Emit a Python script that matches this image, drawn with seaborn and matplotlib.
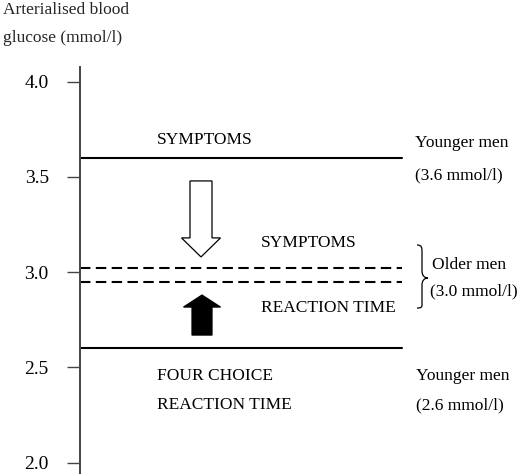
import numpy as np
import pandas as pd
import matplotlib
matplotlib.use("Agg")
import matplotlib.pyplot as plt
import seaborn as sns
from matplotlib.path import Path
from matplotlib.patches import PathPatch

# threshold levels (mmol/l)
line_levels = [3.6, 3.02, 2.95, 2.6]
line_kinds = ["solid", "dashed", "dashed", "solid"]
line_x_end = 322

# arrows: start and end glucose levels
arrow_start = [3.478, 2.669]
arrow_end = [3.079, 2.879]
arrow_fill = ["white", "black"]

y_ticks = [2.0, 2.5, 3.0, 3.5, 4.0]
tick_labels = ["2.0", "2.5", "3.0", "3.5", "4.0"]

# pixel -> glucose value (used for placing text / brace)
PX_PER_UNIT = 190.5
Y3_PIX = 272


def pix2val(p):
    return 3.0 - (p - Y3_PIX) / PX_PER_UNIT


sns.set_theme(style="white")
plt.rcParams["font.family"] = ["Liberation Serif", "DejaVu Serif"]

fig = plt.figure(figsize=(5.2, 4.74), dpi=100)
ax = fig.add_axes([80 / 520, 0, 440 / 520, (474 - 67) / 474])
ax.set_xlim(0, 440)
ax.set_ylim(pix2val(474), pix2val(67))

rows = []
for i, (lvl, kind) in enumerate(zip(line_levels, line_kinds)):
    rows.append({"x": 0, "y": lvl, "grp": i, "kind": kind})
    rows.append({"x": line_x_end, "y": lvl, "grp": i, "kind": kind})
df = pd.DataFrame(rows)

sns.lineplot(data=df, x="x", y="y", units="grp", style="kind", estimator=None,
             color="black", linewidth=1.5, dashes={"solid": "", "dashed": (5, 2.6)},
             legend=False, ax=ax)

# arrows
ax.arrow(121, arrow_start[0], 0, arrow_end[0] - arrow_start[0], width=22, head_width=39,
         head_length=0.10, length_includes_head=True, fc=arrow_fill[0], ec="black", lw=0.9)
ax.arrow(122, arrow_start[1], 0, arrow_end[1] - arrow_start[1], width=20, head_width=37,
         head_length=0.063, length_includes_head=True, fc=arrow_fill[1], ec="black", lw=0.9)

# brace for older men
bx = lambda p: p - 80
pts = [(417, 245), (422, 245), (422, 248), (422, 252), (422, 271),
       (422, 275), (424, 278), (428, 278),
       (424, 278), (422, 281), (422, 285), (422, 304),
       (422, 307), (422, 308), (417, 308)]
codes = [Path.MOVETO, Path.CURVE4, Path.CURVE4, Path.CURVE4, Path.LINETO,
         Path.CURVE4, Path.CURVE4, Path.CURVE4,
         Path.CURVE4, Path.CURVE4, Path.CURVE4, Path.LINETO,
         Path.CURVE4, Path.CURVE4, Path.CURVE4]
verts = [(bx(px), pix2val(py)) for px, py in pts]
ax.add_patch(PathPatch(Path(verts, codes), fc="none", ec="black", lw=0.9))

fs = 12.5
texts = [
    ("SYMPTOMS", 77, 140),
    ("Younger men", 335, 143),
    ("(3.6 mmol/l)", 335, 175),
    ("SYMPTOMS", 181, 243),
    ("Older men", 352, 265),
    ("(3.0 mmol/l)", 350, 291),
    ("REACTION TIME", 181, 308),
    ("FOUR CHOICE", 77, 376),
    ("REACTION TIME", 77, 405),
    ("Younger men", 336, 376),
    ("(2.6 mmol/l)", 336, 405),
]
for s, x, py in texts:
    ax.text(x, pix2val(py), s, ha="left", va="center", fontsize=fs, color="black")

# axis styling
for side in ["top", "right", "bottom"]:
    ax.spines[side].set_visible(False)
ax.spines["left"].set_color("#444444")
ax.spines["left"].set_linewidth(1.4)
ax.set_xticks([])
ax.set_yticks(y_ticks)
ax.set_yticklabels(tick_labels)
ax.tick_params(axis="y", direction="out", length=9.5, width=1.0, color="#444444",
               pad=13, labelsize=14, labelcolor="black", left=True)
ax.set_xlabel("")
ax.set_ylabel("")

fig.text(3 / 520, 1 - 10 / 474, "Arterialised blood", ha="left", va="center", fontsize=fs)
fig.text(3 / 520, 1 - 38 / 474, "glucose (mmol/l)", ha="left", va="center", fontsize=fs)

fig.savefig("out.png", dpi=100)
